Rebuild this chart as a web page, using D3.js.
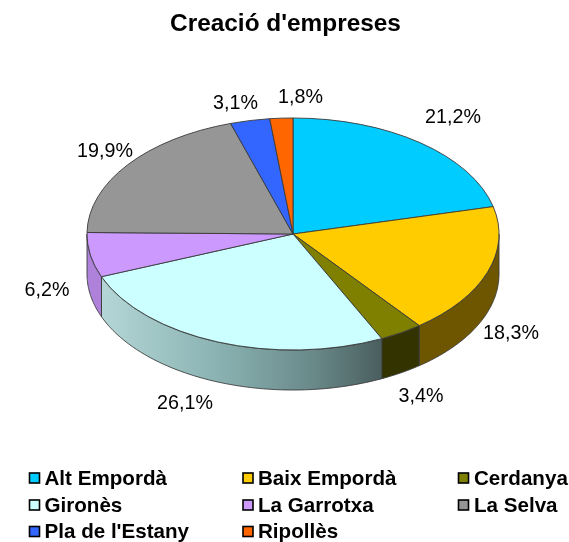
<!DOCTYPE html>
<html><head><meta charset="utf-8">
<script src="https://d3js.org/d3.v7.min.js"></script>
<style>html,body{margin:0;padding:0;background:#fff}svg{display:block;font-family:"Liberation Sans",Arial,sans-serif;filter:blur(0.35px)}</style>
</head><body><svg id="c" width="569" height="542"></svg>
<script>
const title = "Creació d'empreses";
const categories = ["Alt Empordà","Baix Empordà","Cerdanya","Gironès","La Garrotxa","La Selva","Pla de l'Estany","Ripollès"];
const values = [21.2,18.3,3.4,26.1,6.2,19.9,3.1,1.8];
const colors = ["#00CCFF","#FFCC00","#808000","#CCFFFF","#CC99FF","#969696","#3366FF","#FF6600"];
const sideColors = ["#006680","#6E5500","#333300","url(#gironesSide)","#AE82DA","#606060","#1A3380","#803300"];
const labelPos = [[453,123],[511,339],[421,402],[185,409],[47,296],[105,157],[235.5,109],[300.5,103]];

const cx=293, cy=234, rx=206, ry=116, depth=40;
const svg=d3.select("#c");
const fmt=v=>String(v.toFixed(1)).replace(".",",")+"%";

const defs=svg.append("defs");
const g=defs.append("linearGradient").attr("id","gironesSide").attr("gradientUnits","userSpaceOnUse")
  .attr("x1",101).attr("x2",382).attr("y1",0).attr("y2",0);
[[0,"#B4D6D6"],[0.4,"#8CB4B4"],[0.75,"#6A8A8A"],[1,"#4A5E5E"]].forEach(s=>g.append("stop").attr("offset",s[0]).attr("stop-color",s[1]));

svg.append("text").attr("x",285.5).attr("y",30.5).attr("text-anchor","middle")
  .attr("font-weight","bold").attr("font-size",24.4).text(title);

const arcs=d3.pie().sort(null)(values);
const px=a=>cx+rx*Math.sin(a), py=a=>cy-ry*Math.cos(a);

// side walls (visible front half only)
const side=d3.area().x(a=>px(a)).y0(a=>py(a)).y1(a=>py(a)+depth);
arcs.forEach((d,i)=>{
  const a0=Math.max(d.startAngle,Math.PI/2), a1=Math.min(d.endAngle,Math.PI*1.5);
  if(a1<=a0) return;
  const pts=d3.range(a0,a1,0.01).concat([a1]);
  svg.append("path").attr("d",side(pts)+"Z").attr("fill",sideColors[i])
    .attr("stroke","#3a3a3a").attr("stroke-width",0.9).attr("stroke-linejoin","round");
});

// top faces
const arc=d3.arc().innerRadius(0).outerRadius(1);
svg.append("g").attr("transform",`translate(${cx},${cy}) scale(${rx},${ry})`)
  .selectAll("path").data(arcs).join("path")
  .attr("d",arc).attr("fill",(d,i)=>colors[i])
  .attr("stroke","#3a3a3a").attr("stroke-width",0.9).attr("vector-effect","non-scaling-stroke").attr("stroke-linejoin","round");

svg.append("g").selectAll("text").data(values).join("text")
  .attr("x",(d,i)=>labelPos[i][0]).attr("y",(d,i)=>labelPos[i][1])
  .attr("text-anchor","middle").attr("font-size",19.7).attr("fill","#000").text(fmt);

const colX=[29.5,243,458.5], rowY=[478,505,531.5];
const textDx=[15,15,15.5];
const leg=svg.append("g").selectAll("g").data(categories).join("g")
  .attr("transform",(d,i)=>`translate(${colX[i%3]},${rowY[Math.floor(i/3)]})`);
leg.append("rect").attr("x",0).attr("y",-5).attr("width",10).attr("height",10)
  .attr("fill",(d,i)=>colors[i]).attr("stroke","#000").attr("stroke-width",1.6);
leg.append("text").attr("x",(d,i)=>textDx[i%3]).attr("y",6.5).attr("font-weight","bold").attr("font-size",20.6).text(d=>d);
</script></body></html>
